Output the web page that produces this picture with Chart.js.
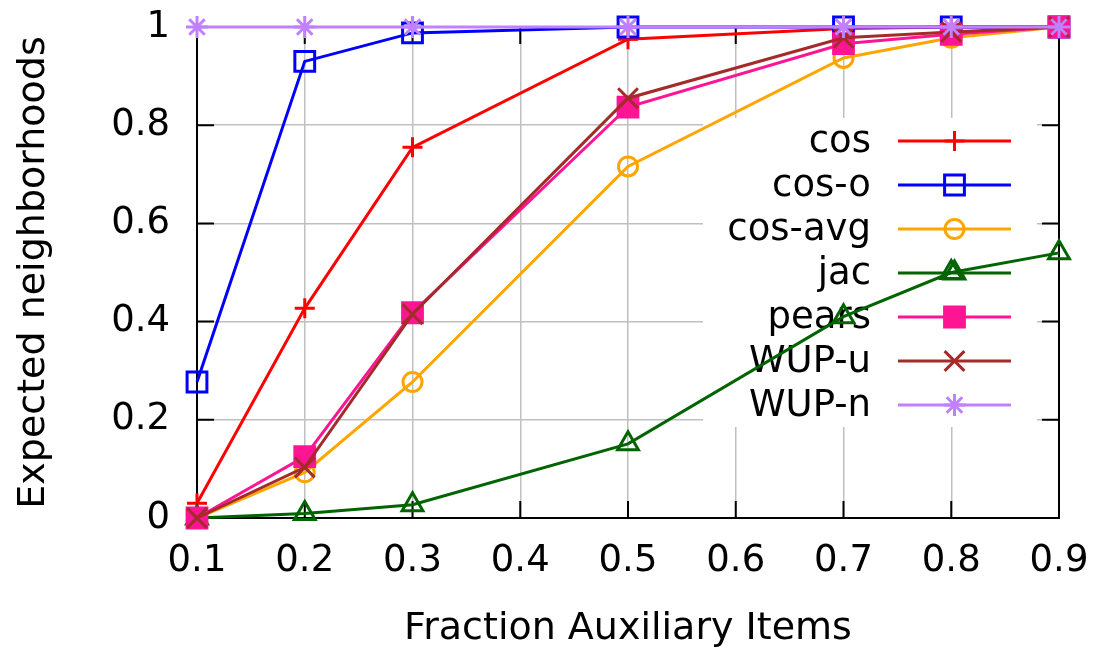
<!DOCTYPE html>
<html>
<head>
<meta charset="utf-8">
<script src="https://cdn.jsdelivr.net/npm/chart.js@4.4.1/dist/chart.umd.min.js"></script>
<style>
  html, body { margin: 0; padding: 0; background: #ffffff; }
  #wrap { width: 1102px; height: 651px; }
</style>
</head>
<body>
<div id="wrap"><canvas id="c" width="1102" height="651"></canvas></div>
<script>
// Fraction of auxiliary items (x) and expected neighborhoods per similarity measure (y)
const fractions   = [0.1, 0.2, 0.3, 0.5, 0.7, 0.8, 0.9];
const cosVals     = [0.030, 0.427, 0.755, 0.975, 0.997, 1.000, 1.000];
const cosOVals    = [0.277, 0.930, 0.988, 1.000, 1.000, 1.000, 1.000];
const cosAvgVals  = [0.000, 0.093, 0.277, 0.716, 0.937, 0.978, 1.000];
const jacVals     = [0.000, 0.009, 0.027, 0.151, 0.410, 0.500, 0.540];
const pearsVals   = [0.000, 0.125, 0.418, 0.837, 0.966, 0.985, 1.000];
const wupUVals    = [0.000, 0.103, 0.415, 0.855, 0.978, 0.990, 1.000];
const wupNVals    = [1.000, 1.000, 1.000, 1.000, 1.000, 1.000, 1.000];
const seriesNames = ['cos', 'cos-o', 'cos-avg', 'jac', 'pears', 'WUP-u', 'WUP-n'];

const xTickValues = [0.1, 0.2, 0.3, 0.4, 0.5, 0.6, 0.7, 0.8, 0.9];
const xTickLabels = ['0.1', '0.2', '0.3', '0.4', '0.5', '0.6', '0.7', '0.8', '0.9'];
const yTickValues = [0, 0.2, 0.4, 0.6, 0.8, 1];
const yTickLabels = ['0', '0.2', '0.4', '0.6', '0.8', '1'];

const xTitle = 'Fraction Auxiliary Items';
const yTitle = 'Expected neighborhoods';

// Line / marker styling, one entry per series
const seriesStyles = [
  { color: '#ff0000', pointStyle: 'cross',    radius: 10,  hollow: true  },
  { color: '#0000ff', pointStyle: 'rect',     radius: 14,  hollow: true  },
  { color: '#ffa500', pointStyle: 'circle',   radius: 9.5, hollow: true  },
  { color: '#006400', pointStyle: 'triangle', radius: 12,  hollow: true  },
  { color: '#ff1493', pointStyle: 'rect',     radius: 14,  hollow: false },
  { color: '#a52a2a', pointStyle: 'crossRot', radius: 14,  hollow: true  },
  { color: '#c080ff', pointStyle: 'star',     radius: 11,  hollow: true  }
];

const FAMILY = '"DejaVu Sans", "Liberation Sans", sans-serif';
const FONT = '37px ' + FAMILY;
const TITLE_FONT = '38px ' + FAMILY;
const GRID = '#c0c0c0';

const seriesValues = [cosVals, cosOVals, cosAvgVals, jacVals, pearsVals, wupUVals, wupNVals];

const datasets = seriesValues.map((vals, i) => {
  const s = seriesStyles[i];
  return {
    label: seriesNames[i],
    data: fractions.map((x, j) => ({ x: x, y: vals[j] })),
    borderColor: s.color,
    backgroundColor: s.color,
    borderWidth: 3,
    pointStyle: s.pointStyle,
    pointRadius: s.radius,
    pointHoverRadius: s.radius,
    pointBorderWidth: 3,
    pointBorderColor: s.color,
    pointBackgroundColor: s.hollow ? 'rgba(0,0,0,0)' : s.color,
    tension: 0,
    fill: false,
    clip: false,
    order: seriesValues.length - i
  };
});

// Scale boxes: fixed thickness, no extra label padding around the plot area
function fixBox(size, horizontal) {
  return s => {
    if (horizontal) { s.height = size; } else { s.width = size; }
    s.paddingTop = 0; s.paddingBottom = 0; s.paddingLeft = 0; s.paddingRight = 0;
  };
}

// Frame, inward ticks, opaque key and axis titles (drawn beneath the data)
const gnuFrame = {
  id: 'gnuFrame',
  beforeDatasetsDraw(chart) {
    const { ctx, chartArea: a, scales } = chart;
    const xs = scales.x, ys = scales.y;
    ctx.save();

    // opaque key background
    ctx.fillStyle = '#ffffff';
    ctx.fillRect(703, 118, 334, 309);

    // border
    ctx.strokeStyle = '#000000';
    ctx.lineWidth = 2;
    ctx.strokeRect(a.left, a.top, a.right - a.left, a.bottom - a.top);

    // inward tick marks on all four sides
    const tl = 17;
    ctx.beginPath();
    xTickValues.forEach(v => {
      const px = xs.getPixelForValue(v);
      ctx.moveTo(px, a.bottom); ctx.lineTo(px, a.bottom - tl);
      ctx.moveTo(px, a.top);    ctx.lineTo(px, a.top + tl);
    });
    yTickValues.forEach(v => {
      const py = ys.getPixelForValue(v);
      ctx.moveTo(a.left, py);  ctx.lineTo(a.left + tl, py);
      ctx.moveTo(a.right, py); ctx.lineTo(a.right - tl, py);
    });
    ctx.stroke();

    // key entries
    const rowY0 = 141, rowStep = 44;
    const textRight = 871, lineX0 = 898, lineX1 = 1011, markX = 954.5;
    ctx.font = FONT;
    ctx.textAlign = 'right';
    ctx.textBaseline = 'middle';
    seriesNames.forEach((name, i) => {
      const s = seriesStyles[i];
      const yy = rowY0 + i * rowStep;
      ctx.fillStyle = '#000000';
      ctx.fillText(name, textRight, yy + 1);
      ctx.strokeStyle = s.color;
      ctx.lineWidth = 3;
      ctx.beginPath();
      ctx.moveTo(lineX0, yy); ctx.lineTo(lineX1, yy);
      ctx.stroke();
      ctx.fillStyle = s.hollow ? 'rgba(0,0,0,0)' : s.color;
      ctx.strokeStyle = s.color;
      ctx.lineWidth = 3;
      Chart.helpers.drawPoint(ctx, {
        pointStyle: s.pointStyle, radius: s.radius, rotation: 0, borderWidth: 3
      }, markX, yy);
    });

    // axis titles
    ctx.fillStyle = '#000000';
    ctx.font = TITLE_FONT;
    ctx.textAlign = 'center';
    ctx.textBaseline = 'alphabetic';
    ctx.fillText(xTitle, (a.left + a.right) / 2, 639);
    ctx.translate(44, (a.top + a.bottom) / 2);
    ctx.rotate(-Math.PI / 2);
    ctx.fillText(yTitle, 0, 0);
    ctx.restore();
  }
};

new Chart(document.getElementById('c'), {
  type: 'line',
  data: { datasets: datasets },
  options: {
    responsive: false,
    animation: false,
    events: [],
    layout: { autoPadding: false, padding: { left: 0, right: 43, top: 27, bottom: 0 } },
    plugins: { legend: { display: false }, tooltip: { enabled: false } },
    scales: {
      x: {
        type: 'linear',
        min: 0.1,
        max: 0.9,
        afterBuildTicks: s => { s.ticks = xTickValues.map(v => ({ value: v })); },
        afterFit: fixBox(133, true),
        ticks: {
          callback: (v, i) => xTickLabels[i],
          font: { family: FAMILY, size: 37 },
          color: '#000000',
          padding: 21,
          maxRotation: 0,
          autoSkip: false
        },
        grid: { color: GRID, lineWidth: 1.5, drawTicks: false },
        border: { display: false }
      },
      y: {
        type: 'linear',
        min: 0,
        max: 1,
        afterBuildTicks: s => { s.ticks = yTickValues.map(v => ({ value: v })); },
        afterFit: fixBox(197, false),
        ticks: {
          callback: (v, i) => yTickLabels[i],
          font: { family: FAMILY, size: 37 },
          color: '#000000',
          padding: 27,
          autoSkip: false
        },
        grid: { color: GRID, lineWidth: 1.5, drawTicks: false },
        border: { display: false }
      }
    }
  },
  plugins: [gnuFrame]
});
</script>
</body>
</html>
